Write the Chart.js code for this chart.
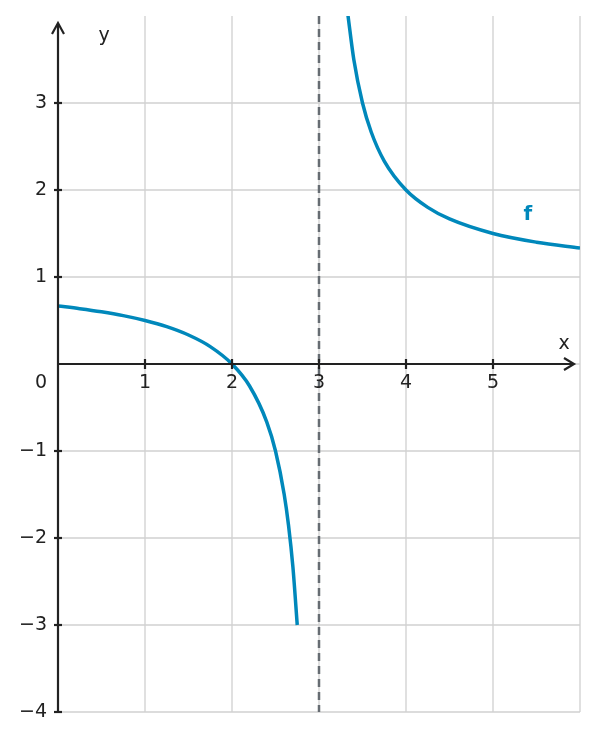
<!DOCTYPE html>
<html><head><meta charset="utf-8">
<script src="https://cdn.jsdelivr.net/npm/chart.js@4"></script>
<style>html,body{margin:0;background:#fff}#w{width:597px;height:741px}</style>
</head><body><div id="w"><canvas id="c"></canvas></div>
<script>
const leftX = [0,0.25,0.5,0.75,1,1.25,1.5,1.75,2,2.2,2.4,2.5,2.6,2.65,2.7,2.75];
const leftY = [0.667,0.636,0.6,0.556,0.5,0.429,0.333,0.2,0,-0.25,-0.667,-1,-1.5,-1.857,-2.333,-3];
const rightX = [3.33,3.4,3.5,3.6,3.75,4,4.25,4.5,5,5.5,6];
const rightY = [4.03,3.5,3,2.667,2.333,2,1.8,1.667,1.5,1.4,1.333];
const xTicks = [1,2,3,4,5];
const yTicks = [-4,-3,-2,-1,1,2,3];
const asymptoteX = 3;
const blue = '#0088bb';
const font = '19px "DejaVu Sans"';
const mk = (xs,ys)=>xs.map((x,i)=>({x,y:ys[i]}));
const deco = {
  id:'deco',
  beforeDatasetsDraw(ch){
    const {ctx,chartArea:a,scales:{x,y}}=ch;
    ctx.save();
    ctx.strokeStyle='#d0d0d0';ctx.lineWidth=1.3;
    for(let v=1;v<=6;v++){const p=x.getPixelForValue(v);ctx.beginPath();ctx.moveTo(p,a.top);ctx.lineTo(p,a.bottom);ctx.stroke();}
    for(let v=-4;v<=3;v++){const p=y.getPixelForValue(v);ctx.beginPath();ctx.moveTo(a.left,p);ctx.lineTo(a.right,p);ctx.stroke();}
    // asymptote
    ctx.strokeStyle='#666c72';ctx.lineWidth=2.5;ctx.setLineDash([8,5]);
    const ax=x.getPixelForValue(asymptoteX);
    ctx.beginPath();ctx.moveTo(ax,a.top);ctx.lineTo(ax,a.bottom);ctx.stroke();
    ctx.setLineDash([]);
    ctx.restore();
  },
  afterDatasetsDraw(ch){
    const {ctx,chartArea:a,scales:{x,y}}=ch;
    const x0=x.getPixelForValue(0),y0=y.getPixelForValue(0);
    ctx.save();
    ctx.strokeStyle='#222';ctx.fillStyle='#222';ctx.lineWidth=2.2;
    ctx.beginPath();ctx.moveTo(x0,a.bottom);ctx.lineTo(x0,a.top+8);ctx.stroke();
    ctx.beginPath();ctx.moveTo(x0-6,a.top+18);ctx.lineTo(x0,a.top+7);ctx.lineTo(x0+6,a.top+18);ctx.stroke();
    ctx.beginPath();ctx.moveTo(x0,y0);ctx.lineTo(a.right-6,y0);ctx.stroke();
    ctx.beginPath();ctx.moveTo(a.right-16,y0-6);ctx.lineTo(a.right-6,y0);ctx.lineTo(a.right-16,y0+6);ctx.stroke();
    ctx.font=font;ctx.fillStyle='#222';
    ctx.textAlign='center';ctx.textBaseline='middle';
    xTicks.forEach(v=>{const p=x.getPixelForValue(v);
      ctx.beginPath();ctx.moveTo(p,y0-5);ctx.lineTo(p,y0+5);ctx.stroke();
      ctx.fillText(String(v),p,y0+19);});
    ctx.textAlign='right';
    yTicks.forEach(v=>{const p=y.getPixelForValue(v);
      ctx.beginPath();ctx.moveTo(x0-4,p);ctx.lineTo(x0+4,p);ctx.stroke();
      ctx.fillText(v<0?'\u2212'+Math.abs(v):String(v),x0-11,p);});
    ctx.fillText('0',x0-11,y0+19);
    ctx.textAlign='center';
    ctx.fillText('y',x0+46,a.top+20);
    ctx.fillText('x',a.right-16,y0-20);
    ctx.fillStyle=blue;ctx.font='bold 20px "DejaVu Sans"';
    ctx.fillText('f',x.getPixelForValue(5.4),y.getPixelForValue(1.72));
    ctx.restore();
  }
};
new Chart(document.getElementById('c'),{
  type:'scatter',
  data:{datasets:[
    {data:mk(leftX,leftY),showLine:true,borderColor:blue,borderWidth:3.5,pointRadius:0,cubicInterpolationMode:'monotone'},
    {data:mk(rightX,rightY),showLine:true,borderColor:blue,borderWidth:3.5,pointRadius:0,cubicInterpolationMode:'monotone'}
  ]},
  options:{responsive:true,maintainAspectRatio:false,animation:false,
    layout:{padding:{left:58,right:17,top:16,bottom:29}},
    plugins:{legend:{display:false},tooltip:{enabled:false}},
    scales:{x:{type:'linear',min:0,max:6,display:false},y:{type:'linear',min:-4,max:4,display:false}}
  },
  plugins:[deco]
});
</script></body></html>
